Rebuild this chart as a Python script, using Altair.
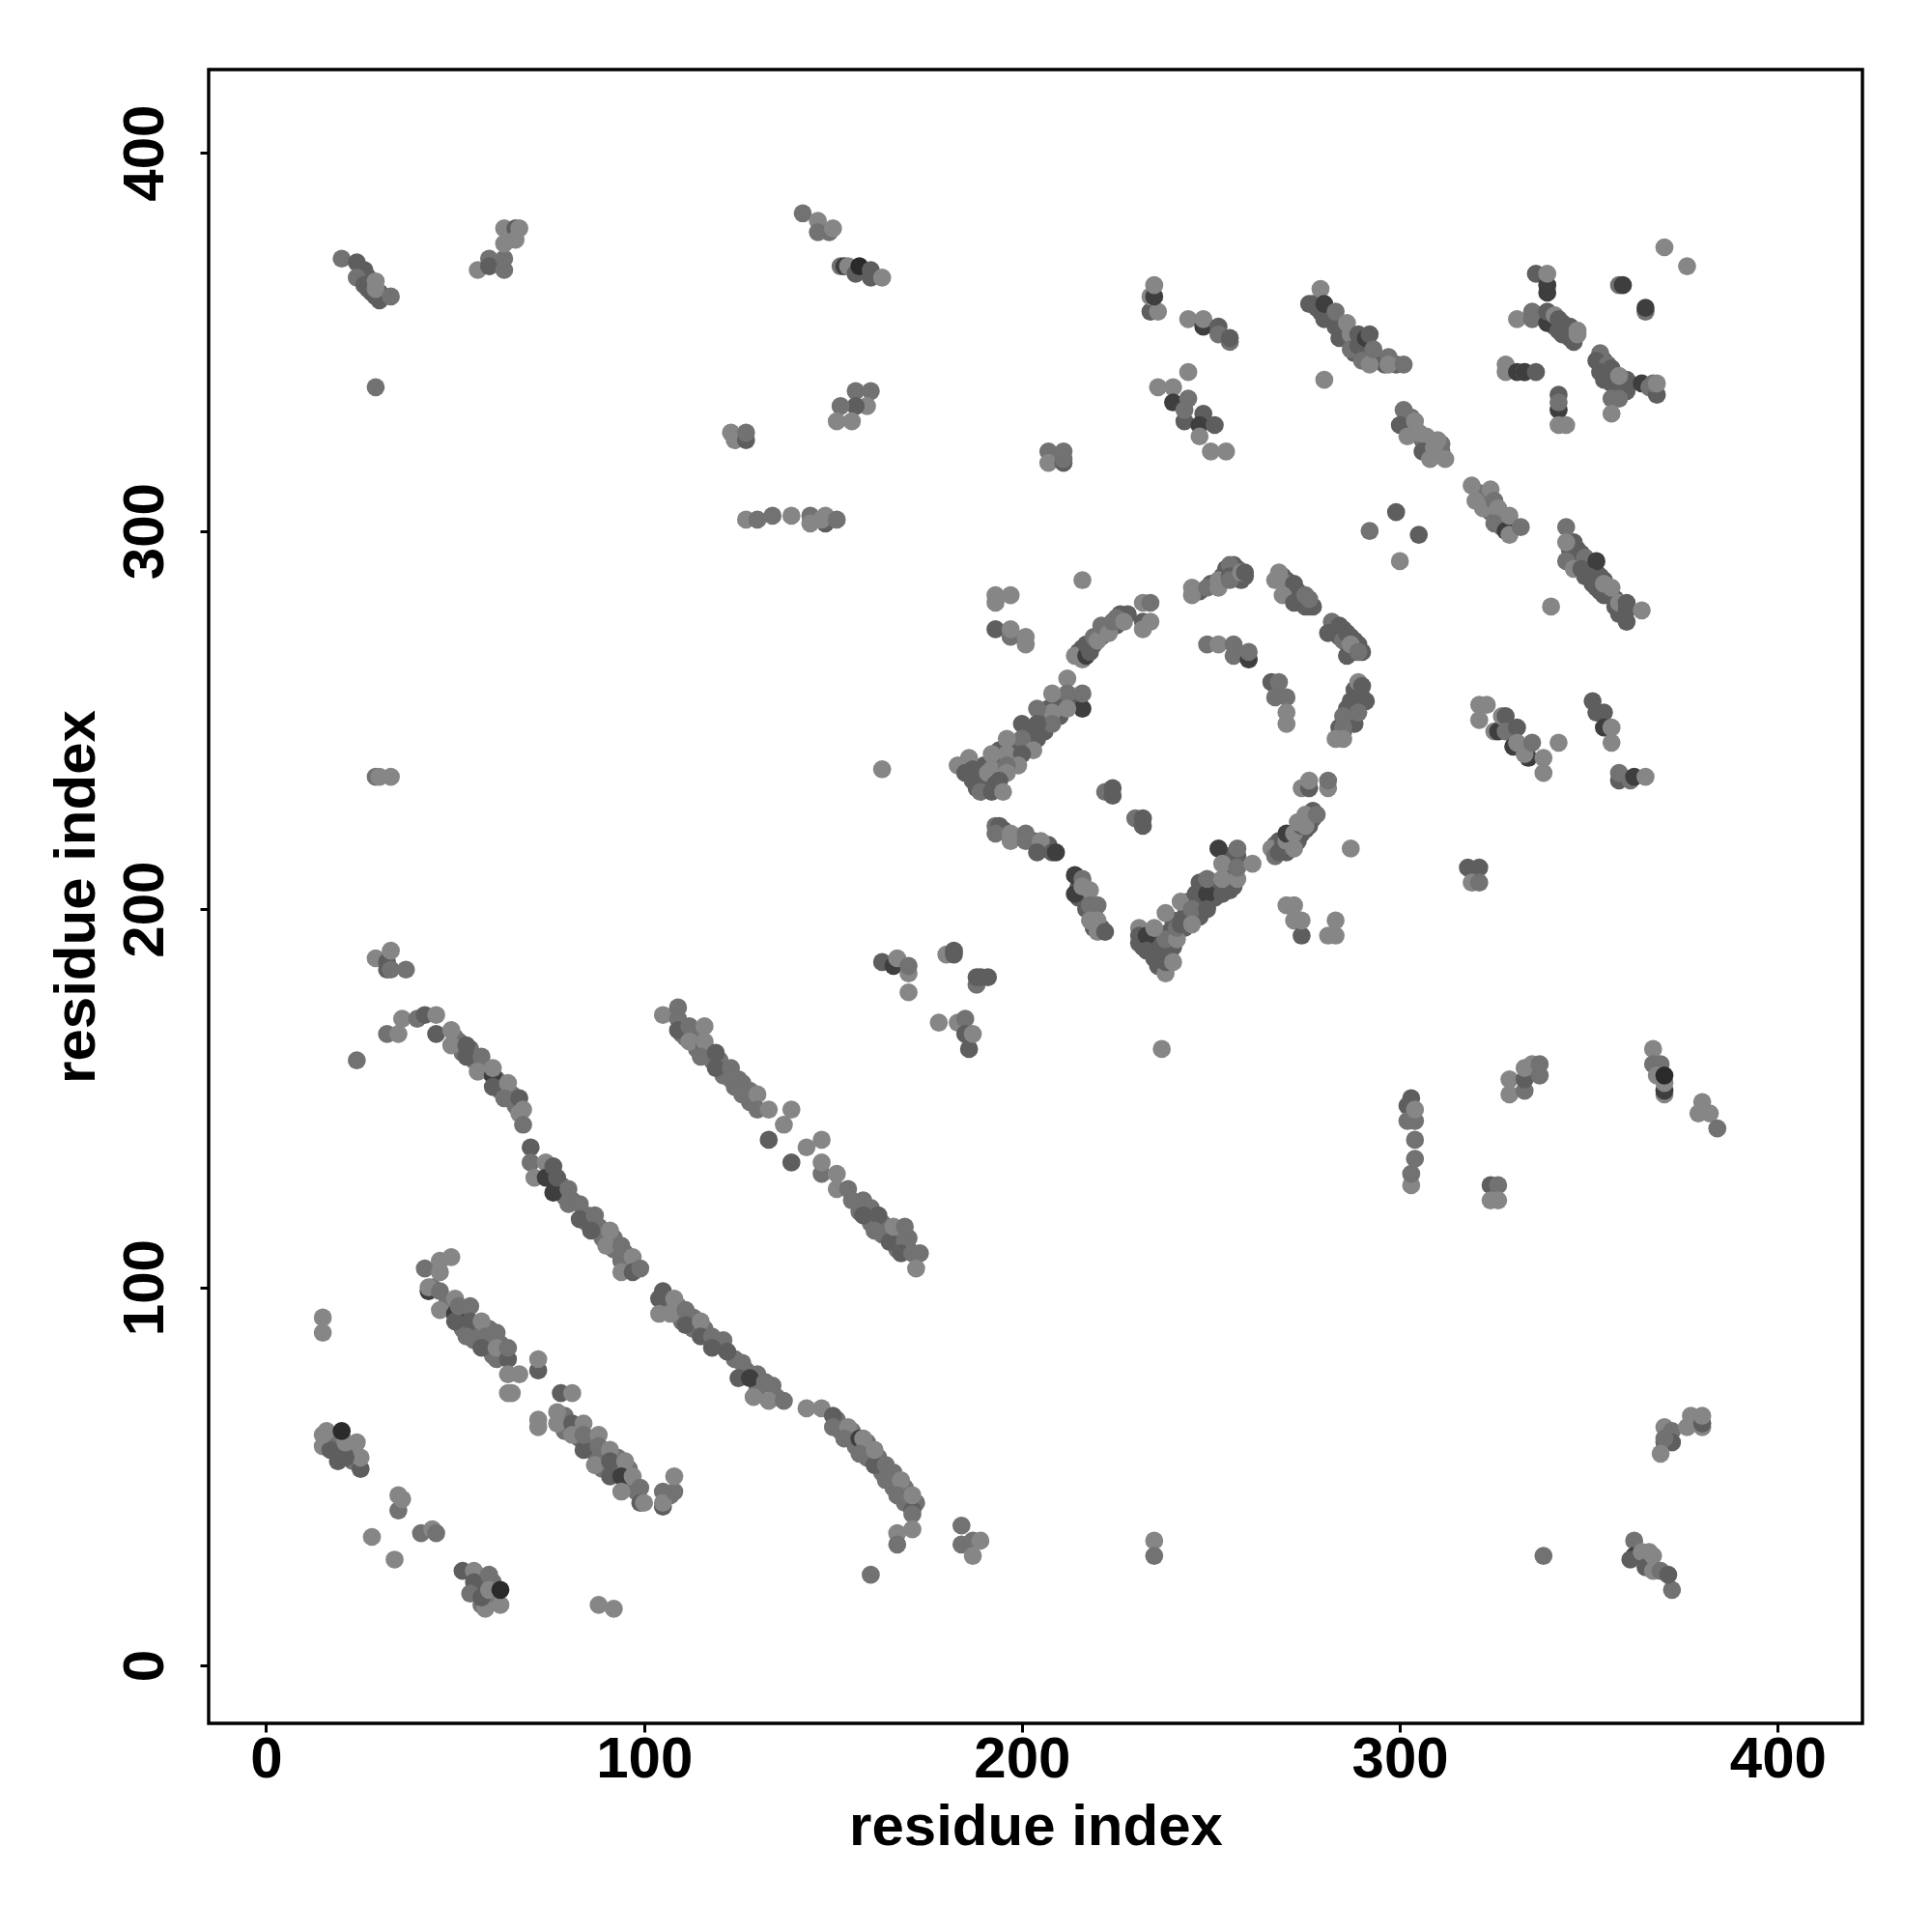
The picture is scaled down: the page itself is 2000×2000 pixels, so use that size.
import altair as alt
import pandas as pd

fill_mid = [(50,166),(51,165),(52,162),(54,163),(55,160),(58,158),(59,157),(61,155),(62,152),(65,151),(66,148),(75,131),(78,127),(79,124),(81,123),(85,119),(85,117),(88,116),(89,113),(92,113),(92,110),(95,109),(96,106),(98,105),
 (106,96),(109,95),(110,91),(113,92),(113,89),(116,89),(120,85),(121,86),(124,81),(127,78),(130,77),(130,73),(135,71),(134,74),(151,65),(152,62),(155,62),(156,58),(159,59),(159,55),(162,55),(163,51),(166,51),(166,47),(169,47),(169,43),(172,43),
 (44,100),(48,96),(49,94),(52,93),(52,89),(55,89),(55,86),(59,85),(59,89),(60,82),(62,85),(62,83),(79,66),(79,62),(82,63),(83,60),(86,60),(86,57),(89,56),(89,52),(92,52),(93,55),(96,52),(96,48),(98,46),(106,45),(107,45),
 (110,167),(111,166),(113,167),(114,163),(117,162),(118,160),(120,160),(121,156),(125,155),(124,153),(128,152),(128,149),(157,120),(160,117),(160,121),(163,117),(164,114),(167,113),(167,110),(170,110),(170,113),(163,114),
 (18,59),(19,58),(22,57),(23,54),(23,58),(56,20),(57,22),(60,18),(60,22),(57,16),
 (303,328),(303,330),(304,326),(306,324),(308,322),(308,324),(309,320),(311,321),(311,323),(321,310),(322,308),(323,309),(324,305),(326,304),(327,303),(327,301),(328,304)]
fill_dark = [(277,360),(278,359),(279,358),(280,358),(281,357),(282,356),(283,355),(284,354),(285,353),(286,352),(285,354),(287,351),(288,350),(289,350),(290,348),(291,347),(291,349),(292,346),(293,346),(294,345),(295,345),(296,344),(299,344),
 (215,268),(216,269),(217,269),(218,270),(219,270),(220,272),(221,272),(222,273),(223,274),(224,275),(225,275),(226,276),(227,277),(228,278),(226,278),
 (186,238),(188,236),(188,232),(190,233),(191,232),(190,238),(193,236),(194,238),(195,240),(197,241),(198,243),(199,244),(201,246),(202,247),(203,246),(205,250),(206,249),(206,252),(207,253),(209,254),(210,255),(211,255),(213,256),(214,256),(215,255),(194,242),(198,240),(202,243),(206,247),(210,251),
 (247,284),(250,286),(251,286),(253,288),(254,288),(254,290),(256,289),(257,290),(256,291),(259,288),(258,287),
 (268,287),(269,288),(270,287),(271,285),(271,284),(273,284),(273,282),(274,283),(274,281),(276,280),(277,280),
 (283,274),(284,272),(285,274),(286,272),(287,272),(288,271),(288,269),(289,270),(290,268),(288,268),
 (232,192),(232,190),(234,191),(234,189),(235,190),(236,188),(237,187),(236,192),(237,190),(239,194),(240,197),(240,190),(239,188),(243,198),(244,202),(243,195),(244,199),(247,202),(247,198),(248,205),(247,207),(250,206),(251,203),(251,207),(252,206),(254,206),(255,205),(255,210),(254,214),(255,214),(256,210),(254,209),(257,214),(256,206),
 (267,217),(268,218),(270,215),(271,217),(271,219),(272,218),(273,220),(273,218),(274,220),(275,221),(276,222),(276,224),(277,224),(277,226),(268,216),(270,217),
 (195,221),(199,219),(203,218),(206,216),(207,217),(215,206),(215,203),(217,204),(217,200),(219,199),(221,195),(219,195),(216,207),
 (289,256),(288,258),(287,252),(286,253),(290,256),(288,249),(286,249),(284,248),
 (25,368),(27,367),(28,363),(27,364),(30,363),(28,366),
 (350,291),(351,290),(349,291),(347,292),(348,294),(345,295),(346,293),(353,288),(354,287),(355,285),(355,283),(356,283),(357,282),(358,280),(359,280),(359,278),(358,278),(347,295),(351,286),(349,288),(353,284),
 (337,357),(338,357),(340,355),(341,354),(343,355),(344,352),(346,351),(340,356),(343,352),(346,350),
 (354,345),(355,342),(354,340),(357,341),(357,339),(358,338),(360,337),(360,340),(356,341),(353,344)]

# each entry: residue i, residue j, shade class (0 light ... 4 dark)
lower_left = [(15,92,0),(15,88,0),(16,62,0),(15,58,0),(24,59,0),(25,52,2),(25,55,0),(19,54,2),(17,57,2),(21,55,2),(21,59,0),(15,61,0),(20,62,4),
 (35,41,1),(35,45,0),(36,44,0),(28,34,0),(34,28,0),(41,35,1),(44,36,0),(45,35,1),
 (52,25,2),(55,25,0),(55,22,2),(59,24,1),(54,19,1),(58,15,0),(57,18,2),(59,20,0),(62,16,0),(62,20,4),(88,16,0),(92,15,0)]
band_b = [(42,105,1),(46,104,0),(46,107,0),(49,108,0),(43,99,3),(43,100,0),(46,99,1),(46,94,0),(50,93,3),(50,91,2),(50,97,0),(51,95,1),(54,95,1),
 (54,91,2),(53,87,1),(57,91,0),(58,87,1),(61,88,1),(57,84,2),(61,81,1),(61,84,0),(64,81,2),(64,84,1),(72,78,2),(72,81,0),(64,77,0),(67,77,0),(64,72,0),(65,72,0),
 (78,72,2),(81,72,0),(72,65,0),(72,63,0),(77,67,0),(77,64,0),(81,64,2),(84,64,0),(81,61,0),(84,57,2),(84,61,1),(88,61,0),(88,58,1),(87,53,0),(91,57,0),(91,54,2),(91,50,2),(95,54,0),(94,50,3),(97,50,0),
 (94,46,0),(99,47,1),(99,43,2),(100,43,0),(105,46,1),(105,42,2),(105,43,0),(108,46,1),(108,50,0)]
band_c_upper = [(29,235,1),(30,235,0),(33,235,0),(29,187,0),(32,186,2),(32,184,2),(33,184,1),(33,189,0),(37,184,1),
 (24,160,1),(36,171,0),(32,167,1),(35,167,0),(40,171,1),(42,172,2),(45,167,2),(45,172,0),(49,168,0),(49,164,0),(53,164,2),(53,161,2),(57,161,1),(56,157,0),(60,156,3),(60,153,2),(60,158,0),(64,154,0),
 (63,150,1),(67,150,2),(68,147,0),(67,146,0),(68,143,1),(70,137,2),(70,133,1),(71,129,0),(74,133,0),(74,129,3),(76,125,3),(76,132,2),(77,129,2),(80,126,1),(80,122,1),(83,122,1),(83,118,2),(87,119,1),(86,115,2),(91,115,0),
 (90,111,0),(94,111,1),(94,107,1),(97,108,0),(94,104,0),(97,104,2),(99,105,1)]
band_c_lower = [(105,99,2),(104,97,2),(108,97,0),(104,93,0),(107,93,0),(111,94,1),(111,90,2),(115,91,0),(115,87,2),(118,87,1),(118,84,2),(122,83,2),(126,80,1),(125,76,2),(128,76,3),(132,75,1),(129,71,0),(133,70,0),(137,70,1),
 (143,68,0),(147,68,0),(150,66,2),(150,63,1),(154,63,0),(153,60,1),(157,60,3),(158,60,0),(157,56,1),(161,53,2),(161,57,0),(164,53,1),(164,49,1),(168,49,0),(167,45,1),(171,41,2),(171,40,1),(171,45,0),(171,36,0),(167,35,0),(167,32,1),(160,24,1),
 (184,37,1),(184,32,1),(187,33,1),(187,29,0),(189,33,0),(235,33,0),(235,29,1)]
band_d = [(105,172,0),(109,174,1),(109,171,1),(109,168,2),(112,169,1),(112,165,0),(116,164,2),(116,169,0),(116,165,0),(115,161,1),(119,162,2),(119,158,2),(123,158,1),(123,155,1),(126,154,1),(126,151,1),(130,151,0),(130,147,1),(133,147,0),(139,147,0),(137,143,0),(133,139,2),(139,133,2),(143,137,0),(147,139,0),
 (147,130,1),(147,133,0),(151,130,0),(151,126,0),(154,126,1),(155,123,1),(158,123,1),(158,119,2),(162,119,2),(161,115,1),(165,112,2),(166,116,0),(169,116,1),(169,112,1),(168,109,2),(171,109,1),(173,109,1),(172,105,0)]
mid_small = [(163,186,2),(166,185,3),(167,187,0),(170,183,0),(170,185,1),(170,178,0),(180,188,0),(182,189,2),(182,188,2),(188,180,1),(188,182,2),(189,182,2),(191,182,2),
 (178,170,0),(183,170,0),(185,171,1),(186,163,2),(185,167,2),(187,167,0),(237,163,0),(163,237,0)]
top_left = [(20,372,1),(24,371,2),(26,369,2),(24,367,1),(26,365,2),(29,362,2),(30,361,2),(29,366,0),(29,364,0),(33,362,1),(29,338,1),
 (56,369,0),(59,372,1),(59,370,2),(63,369,1),(63,372,1),(63,380,0),(66,380,2),(67,380,0),(66,377,0),(63,376,0)]
top_mid = [(142,384,1),(146,382,0),(146,379,1),(149,379,1),(150,380,0),(152,370,1),(153,370,3),(154,370,0),(156,368,2),(157,370,4),(160,369,2),(160,367,2),(163,367,0),
 (156,337,1),(160,337,1),(159,333,0),(156,333,2),(152,333,1),(151,329,0),(155,329,0),
 (123,326,0),(124,324,0),(127,324,2),(127,326,1),
 (127,303,0),(130,303,1),(134,304,1),(139,304,0),(144,304,1),(144,302,0),(148,302,2),(148,304,0),(147,303,0),(151,303,1),
 (207,321,1),(207,318,0),(211,318,2),(211,319,1),(211,321,1)]
top_mid_right = [(234,358,2),(236,358,0),(234,362,0),(235,362,3),(235,365,0),(244,356,0),(248,354,3),(248,356,0),(252,354,2),(252,352,1),(255,350,1),(255,351,2),
 (244,342,0),(236,338,0),(240,338,0),(240,334,3),(244,335,1),(243,329,2),(243,332,1),(248,331,2),(247,328,3),(251,328,2),(247,325,0),(250,321,0),(254,321,0)]
top_right_a = [(279,364,0),(276,360,2),(280,356,2),(280,360,3),(283,354,2),(284,351,2),(283,358,1),(286,355,0),(287,352,0),(288,347,2),(287,348,1),(289,349,2),(289,352,2),(291,351,3),(292,352,2),(290,345,1),(292,344,0),(293,348,1),(297,346,1),(297,344,0),(301,344,1),(280,340,0),
 (301,332,1),(300,328,2),(304,329,0),(302,325,0),(307,325,0),(306,321,2),(308,319,0),(305,326,0),(309,322,0),(310,324,0),(312,319,0),
 (319,312,0),(320,308,0),(324,311,0),(322,306,0),(325,308,1),(326,306,0),(325,302,1),(328,300,3),(329,299,0),(329,304,0),(332,301,1),
 (299,305,2),(292,300,1),(305,299,2),(300,292,0),(340,280,0)]
top_right_b = [(346,297,2),(344,301,1),(344,297,0),(349,293,1),(344,292,1),(346,290,0),(348,290,2),(352,289,2),(352,292,3),(350,288,2),(352,285,2),(354,283,2),(354,286,0),(356,285,0),(357,280,2),(358,281,0),(360,276,2),(360,279,2),(360,281,2),(364,279,0),
 (336,368,2),(339,363,3),(339,365,3),(339,368,0),(358,365,1),(359,365,3),(365,358,1),(365,359,3),(370,375,0),(376,370,0),
 (331,356,0),(335,358,1),(335,356,1),(339,355,3),(339,358,2),(341,357,0),(342,353,2),(342,356,2),(345,354,2),(345,351,2),(347,353,0),(347,352,0),
 (328,344,0),(328,342,0),(331,342,3),(333,342,0),(333,342,3),(336,342,2),(342,332,3),(342,336,2),(342,334,1),(342,328,0),(344,328,0),
 (353,347,1),(352,345,2),(355,344,1),(353,342,2),(356,343,2),(356,339,2),(359,339,2),(358,341,0),(356,335,1),(358,335,1),(356,331,0),
 (364,339,3),(366,338,1),(368,336,2),(367,339,1),(368,339,0)]
ring_upper = [(216,287,0),(193,283,0),(197,283,0),(193,281,0),(193,274,2),(197,272,1),(197,274,0),(201,272,0),(201,270,0),
 (214,267,0),(216,266,0),(217,267,3),(217,270,2),(218,268,2),(219,272,1),(220,271,0),(221,275,1),(223,273,0),(224,276,1),(225,277,1),(227,276,0),
 (232,281,0),(234,281,1),(232,276,2),(232,274,0),(234,276,0),
 (245,285,0),(245,283,0),(249,285,1),(252,287,0),(252,285,0),(255,291,1),(255,288,2),(255,287,1),(258,289,0),(259,289,2),
 (268,289,0),(267,287,0),(270,286,0),(272,286,2),(269,283,0),(272,281,2),(275,280,2),(275,283,1),(276,282,1),
 (282,276,1),(281,273,2),(284,275,2),(285,271,1),(286,273,2),(286,267,2),(287,270,0),(289,268,1)]
ring_inner = [(249,270,1),(252,270,0),(256,270,1),(256,267,1),(260,266,3),(260,268,1),
 (266,260,2),(268,260,1),(267,256,1),(270,256,1),(270,252,0),(270,249,0),
 (289,260,0),(290,259,2),(287,255,2),(291,255,2),(285,251,1),(289,252,1),(285,247,2),(285,248,1),(283,245,0),(285,245,0)]
ring_left = [(212,261,0),(216,253,3),(216,257,1),(212,257,1),(212,253,0),(208,257,0),(208,252,0),(208,249,1),(204,253,1),(204,249,2),(204,245,2),(200,249,2),(200,245,1),(203,242,0),(196,245,0),(196,241,0),(200,241,2),(199,238,0),
 (183,238,0),(186,240,0),(187,237,2),(185,236,2),(187,234,2),(189,234,2),(189,231,1),(192,241,0),(192,237,0),(191,236,0),(196,238,1),(196,236,0),(194,234,2),(193,233,2),(192,231,2),(195,231,0)]
ring_lower = [(222,231,1),(224,230,2),(224,232,2),(230,224,1),(232,222,2),(232,224,2),
 (193,222,1),(194,222,2),(193,220,1),(197,220,0),(197,218,0),(201,220,1),(201,218,1),(205,218,0),(204,215,2),(208,215,2),(209,215,3),
 (214,209,3),(214,204,3),(216,208,1),(216,206,0),(218,205,0),(218,201,1),(220,201,1),(218,197,0),(220,197,0),(220,194,0),(222,194,2)]
ring_base = [(231,195,0),(231,193,2),(231,191,2),(233,193,3),(233,189,2),(235,187,2),(236,185,2),(238,183,0),(238,186,2),(238,189,2),(238,192,1),(240,186,0),(235,195,0),(238,199,0),(241,192,0),(241,195,1),(242,196,2),(242,202,0),
 (246,204,2),(245,200,1),(245,196,0),(249,204,3),(249,200,2),(253,204,2),(249,208,1),(253,208,0),(257,208,0),(252,216,3),(253,212,0),(257,211,1),(257,216,1),(261,212,0)]
ring_right = [(266,216,0),(267,214,1),(269,216,3),(268,215,2),(269,218,2),(270,218,0),(270,220,3),(272,216,0),(272,220,0),(274,222,2),(273,223,0),(275,222,0),(275,225,0),(278,225,1),
 (274,232,0),(276,232,2),(276,234,0),(281,232,0),(281,234,1),(287,216,0),
 (270,201,0),(272,201,0),(272,197,0),(274,193,2),(274,197,0),(283,197,0),(281,193,0),(283,193,0)]
right_mid = [(321,254,0),(323,254,0),(321,250,0),(325,247,0),(326,247,3),(327,251,0),(328,251,2),(328,247,1),(331,248,2),(330,243,3),(331,244,0),(334,240,3),(333,241,0),(335,244,1),(338,240,0),(338,236,0),(342,244,0),
 (351,255,2),(352,252,2),(354,252,2),(354,248,3),(356,248,0),(356,244,0),(358,234,2),(358,236,1),(361,234,1),(362,235,3),(365,235,0),
 (318,211,2),(321,211,2),(319,207,0),(321,207,1)]
right_low = [(303,150,2),(302,148,2),(302,144,1),(304,144,1),(304,147,0),(304,139,1),(304,134,1),(303,127,0),(303,130,1),
 (324,127,2),(326,127,1),(324,123,0),(326,123,0),
 (329,155,0),(329,151,0),(333,152,1),(333,155,2),(333,158,0),(335,159,0),(337,156,1),(337,159,1),
 (367,163,0),(367,159,1),(369,159,1),(368,156,0),(370,151,0),(370,152,3),(370,154,0),(370,156,4),(380,149,0),(379,146,0),(382,146,0),(384,142,1)]
bottom_right = [(370,63,0),(372,62,1),(370,59,2),(372,59,2),(370,60,1),(369,56,0),(376,63,0),(377,66,0),(380,63,0),(380,64,2),(380,66,0),
 (338,29,1),(362,33,1),(362,29,3),(361,28,2),(364,30,0),(365,26,2),(366,30,0),(367,29,0),(367,25,0),(369,25,1),(372,20,1),(371,24,2)]

clusters = [lower_left, band_b, band_c_upper, band_c_lower, band_d, mid_small, top_left, top_mid, top_mid_right,
            top_right_a, top_right_b, ring_upper, ring_inner, ring_left, ring_lower, ring_base, ring_right,
            right_mid, right_low, bottom_right]

rows = [(a, b, 1) for a, b in fill_mid] + [(a, b, 2) for a, b in fill_dark]
rows += [r for c in clusters for r in c]
df = pd.DataFrame(rows, columns=["i", "j", "shade"])

FONT = "Liberation Sans"
x_axis = alt.Axis(values=[0, 100, 200, 300, 400], title="residue index", grid=False, domain=False,
                  ticks=True, tickColor="black", tickWidth=3, tickSize=9,
                  labelFont=FONT, labelFontSize=60, labelFontWeight="bold", labelColor="black",
                  labelPadding=-1, labelOverlap=False, labelFlush=False,
                  titleFont=FONT, titleFontSize=60, titleFontWeight="bold", titleColor="black", titlePadding=11)
y_axis = alt.Axis(values=[0, 100, 200, 300, 400], title="residue index", grid=False, domain=False,
                  ticks=True, tickColor="black", tickWidth=3, tickSize=9,
                  labelFont=FONT, labelFontSize=60, labelFontWeight="bold", labelColor="black",
                  labelAngle=270, labelAlign="center", labelBaseline="bottom",
                  labelPadding=26, labelOverlap=False, labelFlush=False,
                  titleFont=FONT, titleFontSize=60, titleFontWeight="bold", titleColor="black", titlePadding=10)

chart = (
    alt.Chart(df)
    .mark_circle(size=350, opacity=1)
    .encode(
        x=alt.X("i:Q", axis=x_axis, scale=alt.Scale(domain=[-15.2, 422.4], nice=False, zero=False)),
        y=alt.Y("j:Q", axis=y_axis, scale=alt.Scale(domain=[-15.3, 422], nice=False, zero=False)),
        color=alt.Color("shade:O", legend=None,
                        scale=alt.Scale(domain=[0, 1, 2, 3, 4],
                                        range=["#868686", "#727272", "#5e5e5e", "#3e3e3e", "#2a2a2a"])),
    )
    .properties(width=1712, height=1712, background="white",
                autosize=alt.AutoSizeParams(type="none"),
                padding={"left": 208, "top": 64, "right": 64, "bottom": 200})
    .configure_view(stroke="black", strokeWidth=3.4, fill="white")
)

chart.save("out.html", embed_options={"renderer": "svg", "actions": False})
